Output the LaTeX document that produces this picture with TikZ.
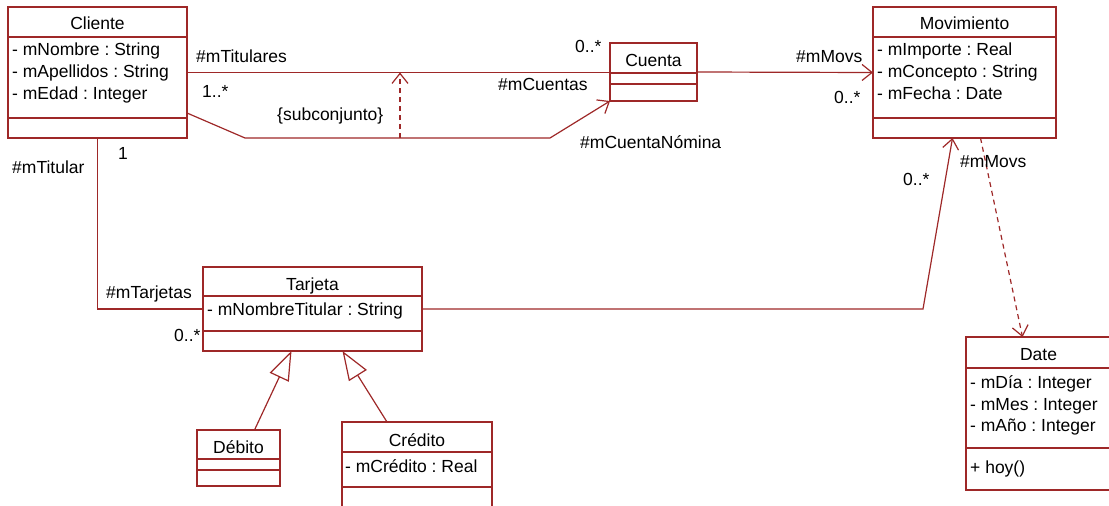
\documentclass[tikz,border=0pt]{standalone}
\usepackage{fontspec}
\setmainfont{Liberation Sans}
\usepackage{tikz}
\usetikzlibrary{arrows.meta,calc}
\definecolor{umlred}{RGB}{158,40,40}
\frenchspacing
\tikzset{
  classbox/.style={draw=umlred, line width=1.2pt, anchor=north west, inner sep=0pt, outer sep=0pt},
  sepline/.style={draw=umlred, line width=1.2pt},
  assoc/.style={draw=umlred, line width=1.2pt},
  nav/.style={assoc, -{Straight Barb[length=10pt,width=16pt]}},
  dep/.style={nav, dash pattern=on 5pt off 4pt},
  inherit/.style={assoc, -{Triangle[open,length=29pt,width=21pt]}},
  txt/.style={inner sep=0pt, anchor=base west, font=\fontsize{17.5}{20}\selectfont},
  clsname/.style={txt, anchor=base},
  role/.style={txt}
}

\begin{document}
\begin{tikzpicture}[x=1pt, y=-1pt]

\useasboundingbox (0,0) rectangle (1109,506);
\clip (0,0) rectangle (1109,506);

% classes
\node [classbox, minimum width=179pt, minimum height=131pt] (cliente) at (8,7) {};
\node [classbox, minimum width=87pt, minimum height=58pt] (cuenta) at (610,43) {};
\node [classbox, minimum width=183pt, minimum height=131pt] (movimiento) at (873,7) {};
\node [classbox, minimum width=219pt, minimum height=84pt] (tarjeta) at (203,267) {};
\node [classbox, minimum width=83pt, minimum height=56pt] (debito) at (197,430) {};
\node [classbox, minimum width=150pt, minimum height=100pt] (credito) at (342,422) {};
\node [classbox, minimum width=145pt, minimum height=153pt] (date) at (966,337) {};

\draw [sepline] ([yshift=-30pt]cliente.north west) -- ([yshift=-30pt]cliente.north east);
\draw [sepline] ([yshift=-111pt]cliente.north west) -- ([yshift=-111pt]cliente.north east);
\draw [sepline] ([yshift=-30pt]cuenta.north west) -- ([yshift=-30pt]cuenta.north east);
\draw [sepline] ([yshift=-41pt]cuenta.north west) -- ([yshift=-41pt]cuenta.north east);
\draw [sepline] ([yshift=-30pt]movimiento.north west) -- ([yshift=-30pt]movimiento.north east);
\draw [sepline] ([yshift=-111pt]movimiento.north west) -- ([yshift=-111pt]movimiento.north east);
\draw [sepline] ([yshift=-29pt]tarjeta.north west) -- ([yshift=-29pt]tarjeta.north east);
\draw [sepline] ([yshift=-64pt]tarjeta.north west) -- ([yshift=-64pt]tarjeta.north east);
\draw [sepline] ([yshift=-29pt]debito.north west) -- ([yshift=-29pt]debito.north east);
\draw [sepline] ([yshift=-40pt]debito.north west) -- ([yshift=-40pt]debito.north east);
\draw [sepline] ([yshift=-30pt]credito.north west) -- ([yshift=-30pt]credito.north east);
\draw [sepline] ([yshift=-65pt]credito.north west) -- ([yshift=-65pt]credito.north east);
\draw [sepline] ([yshift=-31pt]date.north west) -- ([yshift=-31pt]date.north east);
\draw [sepline] ([yshift=-111pt]date.north west) -- ([yshift=-111pt]date.north east);

% class names
\node [clsname] (clienteName) at ([yshift=-23pt]cliente.north) {Cliente};
\node [clsname] (cuentaName) at ([yshift=-23pt]cuenta.north) {Cuenta};
\node [clsname] (movimientoName) at ([yshift=-23pt]movimiento.north) {Movimiento};
\node [clsname] (tarjetaName) at ([yshift=-23pt]tarjeta.north) {Tarjeta};
\node [clsname] (debitoName) at ([yshift=-23pt]debito.north) {Débito};
\node [clsname] (creditoName) at ([yshift=-24pt]credito.north) {Crédito};
\node [clsname] (dateName) at ([yshift=-23pt]date.north) {Date};

% attributes
\node [txt] (clienteNombre) at (12,55) {- mNombre : String};
\node [txt] (clienteApellidos) at (12,77) {- mApellidos : String};
\node [txt] (clienteEdad) at (12,99) {- mEdad : Integer};
\node [txt] (movImporte) at (877,55) {- mImporte : Real};
\node [txt] (movConcepto) at (877,77) {- mConcepto : String};
\node [txt] (movFecha) at (877,99) {- mFecha : Date};
\node [txt] (tarjetaTitular) at (207,315) {- mNombreTitular : String};
\node [txt] (creditoCredito) at (345,472) {- mCrédito : Real};
\node [txt] (dateDia) at (970,388) {- mDía : Integer};
\node [txt] (dateMes) at (970,410) {- mMes : Integer};
\node [txt] (dateAnio) at (970,431) {- mAño : Integer};
\node [txt] (dateHoy) at (970,473) {+ hoy()};

% bend points
\coordinate (nomA) at (245,138);
\coordinate (nomB) at (550,138);
\coordinate (subBase) at (400,138);
\coordinate (movBend) at (923,309);

% associations
\draw [assoc] (cliente.east) -- (cuenta.west |- cliente.east);
\draw [nav] (cuenta.east) -- (movimiento.west);
\draw [nav] ([yshift=25pt]cliente.south east) -- (nomA) -- (nomB) -- (cuenta.south west);
\draw [dep] (subBase) -- (subBase |- cliente.east);
\draw [assoc] (cliente.south) -- (cliente.south |- tarjeta.west) -- (tarjeta.west);
\draw [nav] (tarjeta.east) -- (movBend) -- ([xshift=-12pt]movimiento.south);
\draw [dep] ([xshift=16pt]movimiento.south) -- ([xshift=-16pt]date.north);
\draw [inherit] ([xshift=16pt]debito.north) -- ([xshift=-21pt]tarjeta.south);
\draw [inherit] ([xshift=-30pt]credito.north) -- ([xshift=30pt]tarjeta.south);

% roles and multiplicities
\node [role] (lblTitulares) at (196,62) {\#mTitulares};
\node [role] (lblTitularesMult) at (202,97) {1..*};
\node [role] (lblSub) at (277,120) {\{subconjunto\}};
\node [role] (lblCuentasMult) at (575,52) {0..*};
\node [role] (lblCuentas) at (498,90) {\#mCuentas};
\node [role] (lblNomina) at (580,148) {\#mCuentaNómina};
\node [role] (lblMovs) at (796,62) {\#mMovs};
\node [role] (lblMovsMult) at (834,103) {0..*};
\node [role] (lblMovsTarj) at (960,167) {\#mMovs};
\node [role] (lblMovsTarjMult) at (903,185) {0..*};
\node [role] (lblUno) at (118,159) {1};
\node [role] (lblTitular) at (12,173) {\#mTitular};
\node [role] (lblTarjetas) at (106,298) {\#mTarjetas};
\node [role] (lblTarjetasMult) at (174,341) {0..*};

\end{tikzpicture}
\end{document}
